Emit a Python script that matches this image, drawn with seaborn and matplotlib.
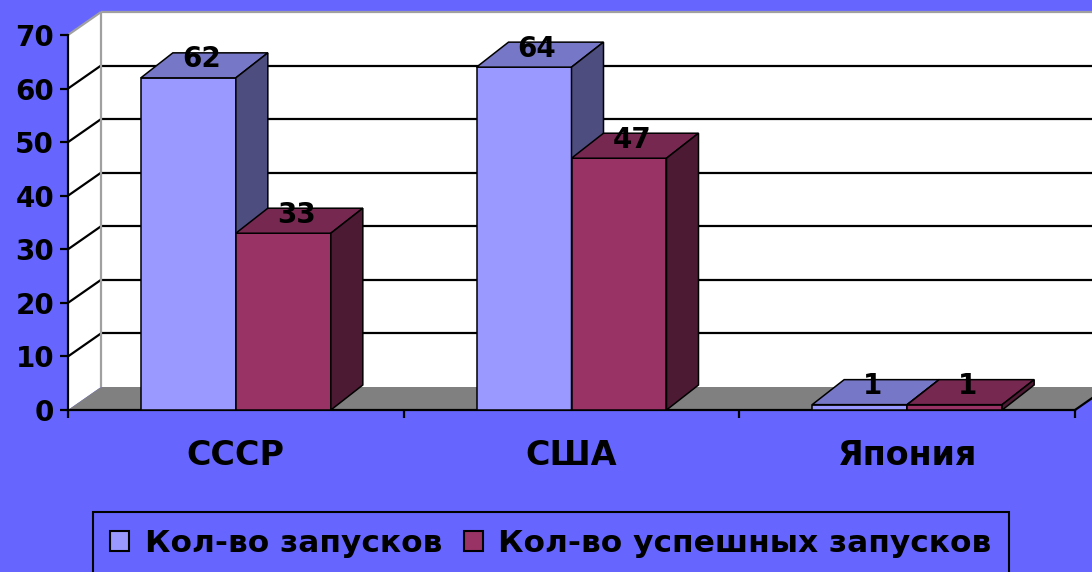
import seaborn as sns
import matplotlib.pyplot as plt
import numpy as np
import pandas as pd
from matplotlib.patches import Polygon, Patch, Rectangle
from matplotlib.transforms import IdentityTransform
from matplotlib.colors import to_rgb

countries = ['СССР', 'США', 'Япония']
series = ['Кол-во запусков', 'Кол-во успешных запусков']
launches = [62, 64, 1]
successful = [33, 47, 1]
colors = ['#9999FF', '#993366']
bg = '#6666FF'

df = pd.DataFrame({'country': countries * 2,
                   'series': [series[0]] * 3 + [series[1]] * 3,
                   'value': launches + successful})

sns.set_style("white")
plt.rcParams['font.family'] = ['DejaVu Sans']
plt.rcParams['font.weight'] = 'bold'
plt.rcParams['text.color'] = 'black'
plt.rcParams['xtick.labelcolor'] = 'black'
plt.rcParams['ytick.labelcolor'] = 'black'

fig = plt.figure(figsize=(10.92, 5.72), dpi=100, facecolor=bg)
ax = fig.add_axes([68/1092, 162/572, 1007/1092, 375/572])
ax.set_facecolor('none')

sns.barplot(data=df, x='country', y='value', hue='series', palette=colors,
            width=0.566, edgecolor='black', linewidth=1.1, saturation=1, ax=ax)
ax.get_legend().remove()
ax.set_xlim(-0.5, 2.5)
ax.set_ylim(0, 70)
ax.set_xlabel('')
ax.set_ylabel('')

# the seaborn bars, left to right
bars = sorted([p for p in ax.patches if isinstance(p, Rectangle) and p.get_height() > 0],
              key=lambda p: p.get_x())

wall_off = (33, 23)
bar_off = (32, 25)

def proj(x, y, d, off):
    px, py = ax.transData.transform((x, y))
    return (px + d * off[0], py + d * off[1])

def poly(pts, fc, z, ec='none', lw=0):
    ax.add_patch(Polygon(pts, closed=True, facecolor=fc, edgecolor=ec, linewidth=lw,
                         transform=IdentityTransform(), clip_on=False, zorder=z))

def seg(p0, p1, c, lw, z):
    ax.plot([p0[0], p1[0]], [p0[1], p1[1]], color=c, lw=lw,
            transform=IdentityTransform(), clip_on=False, zorder=z, solid_capstyle='butt')

x0, x1 = -0.5, 2.5
ticks = np.arange(0, 71, 10)

# back wall, side wall, floor
poly([proj(x0, 0, 1, wall_off), proj(x1 + 0.2, 0, 1, wall_off),
      proj(x1 + 0.2, 70, 1, wall_off), proj(x0, 70, 1, wall_off)], 'white', 0.5)
poly([proj(x0, 0, 0, wall_off), proj(x0, 70, 0, wall_off),
      proj(x0, 70, 1, wall_off), proj(x0, 0, 1, wall_off)], 'white', 0.5)
for v in ticks[1:-1]:
    seg(proj(x0, v, 1, wall_off), proj(x1 + 0.2, v, 1, wall_off), 'black', 1.6, 0.6)
    seg(proj(x0, v, 0, wall_off), proj(x0, v, 1, wall_off), 'black', 1.6, 0.6)
seg(proj(x0, 70, 1, wall_off), proj(x1 + 0.2, 70, 1, wall_off), '#A0A0A0', 1.6, 0.6)
seg(proj(x0, 70, 0, wall_off), proj(x0, 70, 1, wall_off), '#A0A0A0', 1.6, 0.6)
seg(proj(x0, 0, 1, wall_off), proj(x0, 70, 1, wall_off), '#A0A0A0', 1.6, 0.6)
poly([proj(x0, 0, 0, wall_off), proj(x1, 0, 0, wall_off),
      proj(x1, 0, 1, wall_off), proj(x0, 0, 1, wall_off)], '#808080', 0.7)
seg(proj(x1, 0, 0, wall_off), proj(x1, 0, 1, wall_off), 'black', 1.6, 0.8)

# 3D faces of the bars
for i, p in enumerate(bars):
    bx, w, h = p.get_x(), p.get_width(), p.get_height()
    c = np.array(to_rgb(p.get_facecolor()))
    z = 3 + i * 0.1
    p.set_zorder(z)
    poly([proj(bx, h, 0, bar_off), proj(bx + w, h, 0, bar_off),
          proj(bx + w, h, 1, bar_off), proj(bx, h, 1, bar_off)], c * 0.78, z, 'black', 1.1)
    poly([proj(bx + w, 0, 0, bar_off), proj(bx + w, h, 0, bar_off),
          proj(bx + w, h, 1, bar_off), proj(bx + w, 0, 1, bar_off)], c * 0.5, z, 'black', 1.1)
    cx, cy = proj(bx + w / 2, h, 0.5, bar_off)
    ax.text(cx - 3, cy + 6, f'{h:.0f}', transform=IdentityTransform(), ha='center',
            va='center', fontsize=20, fontweight='bold', color='black', zorder=10)

for s in ['top', 'right']:
    ax.spines[s].set_visible(False)
for s in ['left', 'bottom']:
    ax.spines[s].set_color('black')
    ax.spines[s].set_linewidth(1.6)
    ax.spines[s].set_zorder(2.5)

ax.set_yticks(ticks)
ax.tick_params(axis='y', direction='out', length=6, width=1.6, color='black',
               labelsize=20, pad=4, left=True, labelcolor='black')
ax.set_xticks([0, 1, 2])
ax.set_xticklabels(countries)
ax.set_xticks([-0.5, 0.5, 1.5, 2.5], minor=True)
ax.tick_params(axis='x', which='major', length=0, labelsize=24, pad=21, labelcolor='black')
ax.tick_params(axis='x', which='minor', direction='out', length=6, width=1.6,
               color='black', bottom=True)
ax.grid(False)

handles = [Patch(facecolor=c, edgecolor='black', linewidth=1.5) for c in colors]
leg = fig.legend(handles, series, loc='upper left', bbox_to_anchor=(93/1092, 1 - 512/572),
                 ncol=2, frameon=True, fancybox=False, edgecolor='black', facecolor=bg,
                 framealpha=1, fontsize=22.5, handlelength=0.6, handleheight=0.6,
                 handletextpad=0.5, columnspacing=0.7, borderpad=0.55, borderaxespad=0,
                 labelcolor='black')
leg.get_frame().set_linewidth(1.5)

fig.savefig('out.png', dpi=100, facecolor=bg)
